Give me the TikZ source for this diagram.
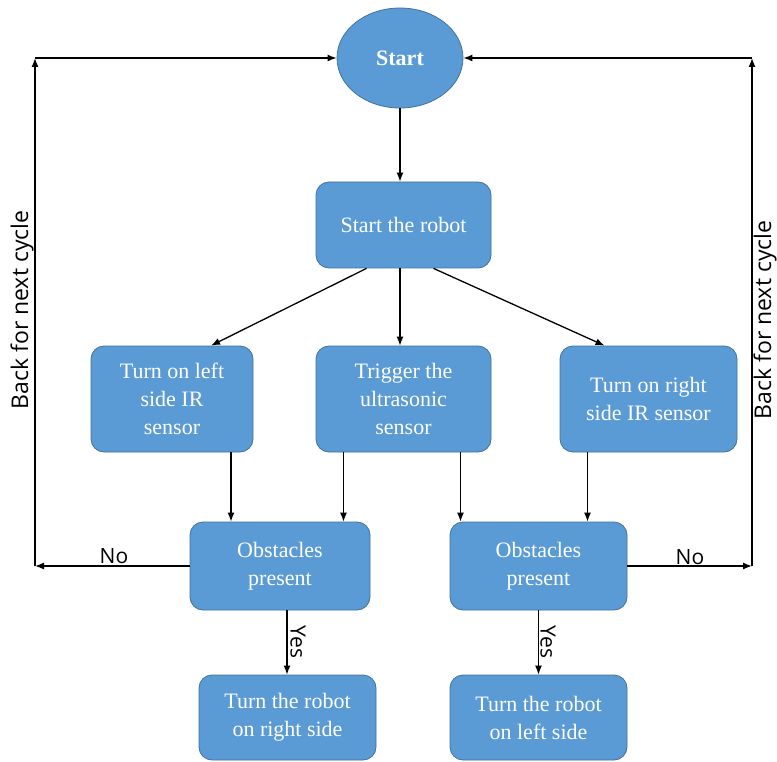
\documentclass[tikz,border=0pt]{standalone}
\usepackage{fontspec}
\setmainfont{Liberation Serif}
\newfontfamily\labelfont{Open Sans}
\usetikzlibrary{shapes.geometric,arrows.meta}
\definecolor{boxblue}{HTML}{5B9BD5}
\definecolor{boxedge}{HTML}{41719C}
\begin{document}
\begin{tikzpicture}[x=1pt,y=-1pt,
  box/.style={draw=boxedge, line width=0.8pt, fill=boxblue, rounded corners=13pt, text=white, align=center, font=\fontsize{22}{28}\selectfont, inner sep=2pt},
  arr/.style={-{Latex[length=9pt,width=7pt]}, line width=1.3pt},
  lab/.style={font=\labelfont\fontsize{21}{25}\selectfont, inner sep=1pt},
  side/.style={font=\labelfont\fontsize{23}{27}\selectfont, inner sep=0pt, rotate=90}]
\useasboundingbox (0,0) rectangle (777,762);
\node[ellipse, draw=boxedge, line width=0.8pt, fill=boxblue, minimum width=126pt, minimum height=100pt, inner sep=0pt, text=white, font=\bfseries\fontsize{22}{26}\selectfont] (start) at (400,58) {Start};
\node[box, minimum width=175pt, minimum height=86pt] (sr) at (403.5,225) {Start the robot};
\node[box, minimum width=162pt, minimum height=106pt] (l) at (172,399) {Turn on left\\side IR\\sensor};
\node[box, minimum width=175pt, minimum height=106pt] (m) at (403.5,399) {Trigger the\\ultrasonic\\sensor};
\node[box, minimum width=177pt, minimum height=106pt] (r) at (648.5,399) {Turn on right\\side IR sensor};
\node[box, minimum width=180pt, minimum height=88pt] (ol) at (280,566) {Obstacles\\present};
\node[box, minimum width=177pt, minimum height=88pt] (orr) at (538.5,566) {Obstacles\\present};
\node[box, minimum width=177pt, minimum height=85pt] (bl) at (287.5,717.5) {Turn the robot\\on right side};
\node[box, minimum width=177pt, minimum height=85pt] (br) at (538.5,717.5) {Turn the robot\\on left side};
\coordinate (cl) at (35,566);
\coordinate (tl) at (35,58);
\coordinate (cr) at (752,566);
\coordinate (tr) at (752,58);
\draw[arr] (start.south) -- (start.south |- sr.north);
\draw[arr] ([xshift=-37pt]sr.south) -- ([xshift=39pt]l.north);
\draw[arr] (start.south |- sr.south) -- (start.south |- m.north);
\draw[arr] ([xshift=30pt]sr.south) -- ([xshift=-44pt]r.north);
\draw[arr] ([xshift=59pt]l.south) -- ([xshift=59pt]l.south |- ol.north);
\draw[arr] ([xshift=-60pt]m.south) -- ([xshift=-60pt]m.south |- ol.north);
\draw[arr] ([xshift=57pt]m.south) -- ([xshift=57pt]m.south |- orr.north);
\draw[arr] ([xshift=-61pt]r.south) -- ([xshift=-61pt]r.south |- orr.north);
\draw[arr] ([xshift=7pt]ol.south) -- ([xshift=7pt]ol.south |- bl.north);
\draw[arr] (orr.south) -- (orr.south |- br.north);
\draw[arr] (ol.west) -- (cl);
\draw[arr] (cl) -- (tl);
\draw[arr] (tl) -- (start.west);
\draw[arr] (orr.east) -- (cr);
\draw[arr] (cr) -- (tr);
\draw[arr] (tr) -- (start.east);
\node[lab] (nol) at (114,556) {No};
\node[lab] (nor) at (690,557) {No};
\node[side] (bkl) at (22,310) {Back for next cycle};
\node[side] (bkr) at (765,320) {Back for next cycle};
\node[lab, rotate=-90] (yl) at (298,642) {Yes};
\node[lab, rotate=-90] (yr) at (548,642) {Yes};
\end{tikzpicture}
\end{document}
